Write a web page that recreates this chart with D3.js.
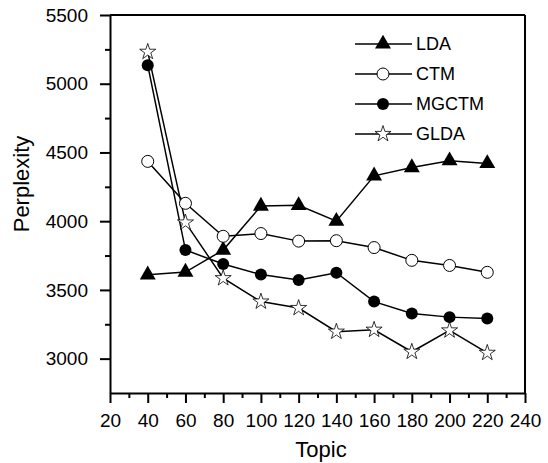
<!DOCTYPE html>
<html>
<head>
<meta charset="utf-8">
<script src="https://cdn.jsdelivr.net/npm/d3@7"></script>
<style>
  body { margin: 0; background: #fff; }
  text { font-family: "Liberation Sans", Arial, sans-serif; fill: #000; }
</style>
</head>
<body>
<svg id="chart" width="548" height="463"></svg>
<script>
var topics = [40, 60, 80, 100, 120, 140, 160, 180, 200, 220]; //x values
var ldaValues = [3610, 3630, 3790, 4110, 4115, 4000, 4330, 4390, 4440, 4420];
var ctmValues = [4435, 4130, 3890, 3910, 3855, 3858, 3808, 3715, 3678, 3628];
var mgctmValues = [5135, 3790, 3688, 3612, 3572, 3625, 3415, 3328, 3302, 3292];
var gldaValues = [5232, 3990, 3585, 3415, 3368, 3196, 3210, 3050, 3205, 3042];
var seriesNames = ["LDA", "CTM", "MGCTM", "GLDA"];
var xTicks = [20, 40, 60, 80, 100, 120, 140, 160, 180, 200, 220, 240];
var yTicks = [3000, 3500, 4000, 4500, 5000, 5500];

var svg = d3.select("#chart");
var plotLeft = 110, plotRight = 525, plotTop = 15, plotBottom = 393;

var x = d3.scaleLinear().domain([20, 240]).range([plotLeft, plotRight]);
var y = d3.scaleLinear().domain([2750, 5500]).range([plotBottom, plotTop]);

var series = [
    { name: seriesNames[0], values: ldaValues, marker: "triangle" },
    { name: seriesNames[1], values: ctmValues, marker: "open" },
    { name: seriesNames[2], values: mgctmValues, marker: "filled" },
    { name: seriesNames[3], values: gldaValues, marker: "star" }
];

// frame: top and right borders
svg.append("line").attr("x1", plotLeft).attr("x2", plotRight).attr("y1", plotTop).attr("y2", plotTop)
    .attr("stroke", "#000").attr("stroke-width", 2);
svg.append("line").attr("x1", plotRight).attr("x2", plotRight).attr("y1", plotTop).attr("y2", plotBottom)
    .attr("stroke", "#000").attr("stroke-width", 2);

// minor ticks
svg.append("g").attr("transform", `translate(0,${plotBottom})`)
    .call(d3.axisBottom(x).tickValues(d3.range(30, 240, 20)).tickSize(5).tickFormat(""))
    .call(g => g.select(".domain").remove())
    .selectAll("line").attr("stroke-width", 2);
svg.append("g").attr("transform", `translate(${plotLeft},0)`)
    .call(d3.axisLeft(y).tickValues(d3.range(3250, 5500, 500)).tickSize(5).tickFormat(""))
    .call(g => g.select(".domain").remove())
    .selectAll("line").attr("stroke-width", 2);

// major axes
var xAxis = svg.append("g").attr("transform", `translate(0,${plotBottom})`)
    .call(d3.axisBottom(x).tickValues(xTicks).tickFormat(d3.format("d"))
        .tickSize(10).tickSizeOuter(0).tickPadding(8));
var yAxis = svg.append("g").attr("transform", `translate(${plotLeft},0)`)
    .call(d3.axisLeft(y).tickValues(yTicks).tickFormat(d3.format("d"))
        .tickSize(10).tickSizeOuter(0).tickPadding(12));
[xAxis, yAxis].forEach(function (a) {
    a.select(".domain").attr("stroke-width", 2);
    a.selectAll("line").attr("stroke-width", 2);
    a.selectAll("text").style("font-size", "19px").style("font-family", "'Liberation Sans', Arial, sans-serif");
});
xAxis.selectAll("text").attr("dy", "0.85em");

// axis titles
svg.append("text").attr("x", 321).attr("y", 457).attr("text-anchor", "middle")
    .style("font-size", "22px").text("Topic");
svg.append("text").attr("transform", "translate(29,184) rotate(-90)").attr("text-anchor", "middle")
    .style("font-size", "22px").text("Perplexity");

var line = d3.line().x((d, i) => x(topics[i])).y(d => y(d));

function drawMarker(g, type, cx, cy) {
    if (type === "triangle") {
        g.append("path").attr("d", d3.symbol().type(d3.symbolTriangle).size(110)())
            .attr("transform", `translate(${cx},${cy})`).attr("fill", "#000");
    } else if (type === "open") {
        g.append("circle").attr("cx", cx).attr("cy", cy).attr("r", 6)
            .attr("fill", "#fff").attr("stroke", "#000").attr("stroke-width", 1);
    } else if (type === "filled") {
        g.append("circle").attr("cx", cx).attr("cy", cy).attr("r", 6).attr("fill", "#000");
    } else {
        g.append("path").attr("d", d3.symbol().type(d3.symbolStar).size(80)())
            .attr("transform", `translate(${cx},${cy})`)
            .attr("fill", "#fff").attr("stroke", "#000").attr("stroke-width", 0.8);
    }
}

series.forEach(function (s) {
    svg.append("path").datum(s.values).attr("d", line)
        .attr("fill", "none").attr("stroke", "#000").attr("stroke-width", 1.5);
});
series.forEach(function (s) {
    var g = svg.append("g");
    s.values.forEach(function (v, i) { drawMarker(g, s.marker, x(topics[i]), y(v)); });
});

// legend
var legendY = [44, 74, 104, 134];
series.forEach(function (s, i) {
    var g = svg.append("g");
    g.append("line").attr("x1", 355).attr("x2", 412).attr("y1", legendY[i]).attr("y2", legendY[i])
        .attr("stroke", "#000").attr("stroke-width", 1.5);
    drawMarker(g, s.marker, 383, legendY[i]);
    g.append("text").attr("x", 416).attr("y", legendY[i]).attr("dy", "0.36em")
        .style("font-size", "18px").text(s.name);
});
</script>
</body>
</html>
